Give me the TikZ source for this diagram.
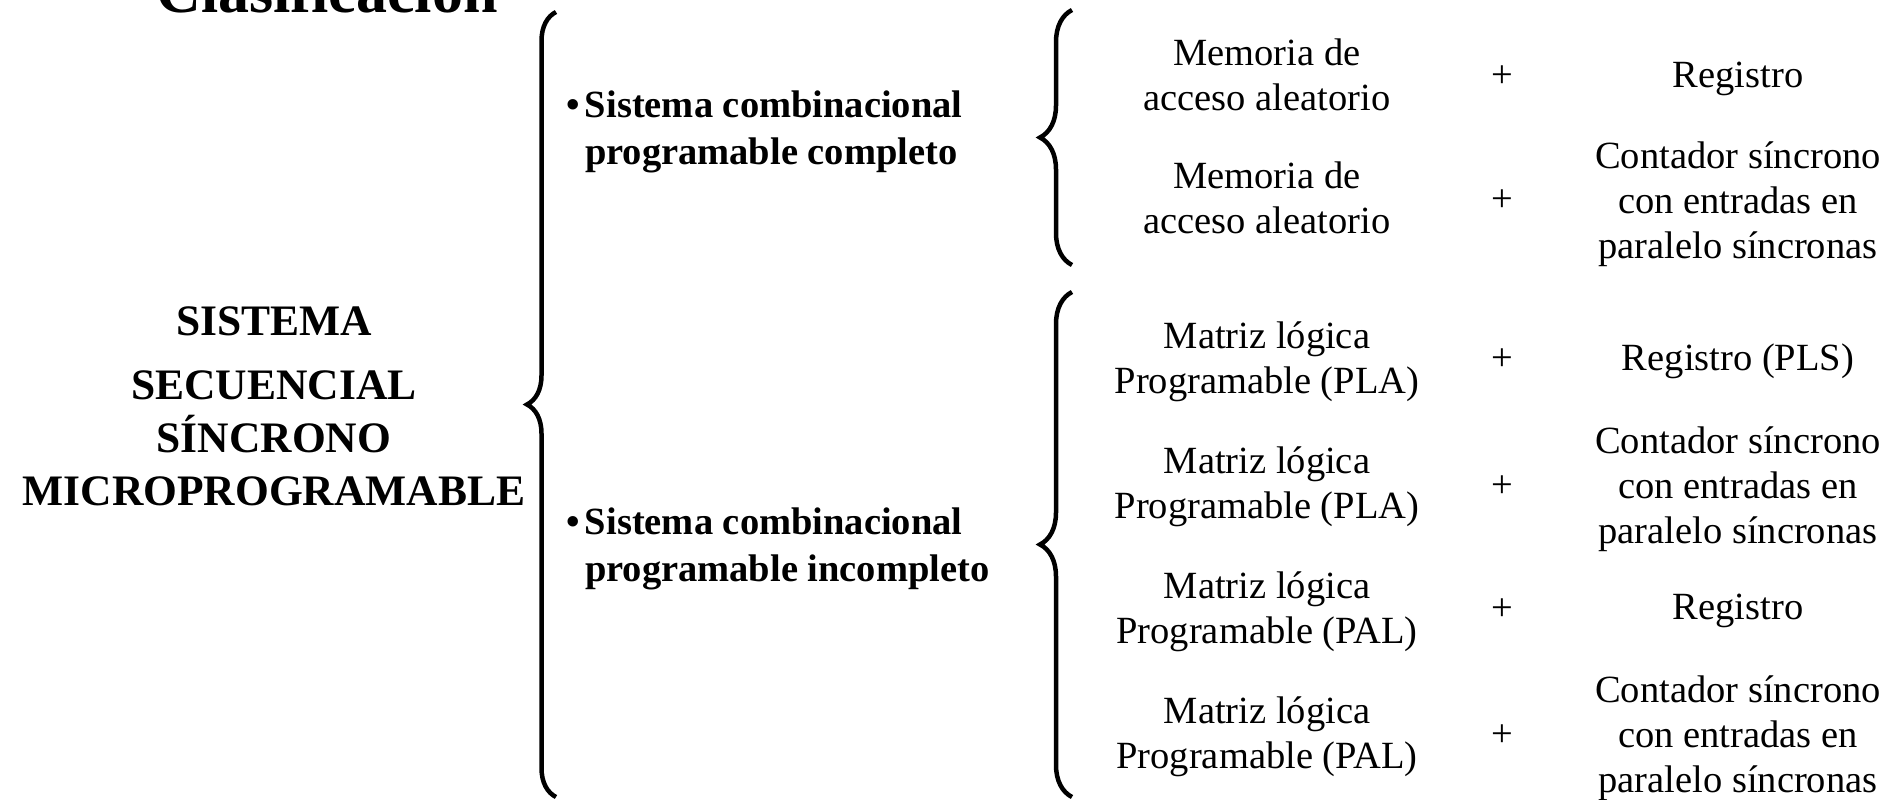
\documentclass[tikz,border=0pt]{standalone}
\usepackage{fontspec}
\setmainfont{Liberation Serif}
\usetikzlibrary{decorations.pathreplacing}
\begin{document}
\begin{tikzpicture}[x=1pt,y=-1pt,
  every node/.style={inner sep=0pt, outer sep=0pt},
  item/.style={font=\fontsize{38.5}{45}\selectfont, align=center, anchor=north},
  plus/.style={font=\fontsize{38.5}{45}\selectfont, anchor=base},
  group/.style={font=\fontsize{38.5}{47}\selectfont\bfseries, align=left, anchor=north west},
  head/.style={font=\fontsize{43.5}{53}\selectfont\bfseries, align=center, anchor=north},
  curly/.style={decorate, decoration={brace, amplitude=#1}, line width=4.5pt}
]
\useasboundingbox (0,0) rectangle (1899,800);
\clip (0,0) rectangle (1899,800);

% title and main heading
\node[font=\fontsize{62}{70}\selectfont\bfseries, anchor=base] (title) at (327,13) {Clasificación};
\node[head] (sys) at (274,306.5) {SISTEMA\\[11pt]SECUENCIAL\\SÍNCRONO\\MICROPROGRAMABLE};

% main brace
\coordinate (b0t) at (556,12);
\coordinate (b0b) at (556,797);
\draw[curly=29pt] (b0b) -- (b0t);

% the two kinds of combinational part
\node[group] (g1) at (566,91) {\makebox[19pt][l]{\textbullet}Sistema combinacional\\\hspace*{19pt}programable completo};
\node[group] (g2) at (566,508) {\makebox[19pt][l]{\textbullet}Sistema combinacional\\\hspace*{19pt}programable incompleto};

% sub-braces
\coordinate (b1t) at (1072,10);
\coordinate (b1b) at (1072,265);
\draw[curly=32pt] (b1b) -- (b1t);
\coordinate (b2t) at (1072,292);
\coordinate (b2b) at (1072,797);
\draw[curly=32pt] (b2b) -- (b2t);

% combinational part
\node[item] (m1) at (1267,38.7) {Memoria de\\acceso aleatorio};
\node[item] (m2) at (1267,161.7) {Memoria de\\acceso aleatorio};
\node[item] (m3) at (1267,321.7) {Matriz lógica\\Programable (PLA)};
\node[item] (m4) at (1267,446.7) {Matriz lógica\\Programable (PLA)};
\node[item] (m5) at (1267,571.7) {Matriz lógica\\Programable (PAL)};
\node[item] (m6) at (1267,696.7) {Matriz lógica\\Programable (PAL)};

% plus signs
\node[plus] (p1) at (1502,88) {+};
\node[plus] (p2) at (1502,211) {+};
\node[plus] (p3) at (1502,370) {+};
\node[plus] (p4) at (1502,497) {+};
\node[plus] (p5) at (1502,620) {+};
\node[plus] (p6) at (1502,746) {+};

% sequential part
\node[item] (r1) at (1738,61.7) {Registro};
\node[item] (r2) at (1738,141.7) {Contador síncrono\\con entradas en\\paralelo síncronas};
\node[item] (r3) at (1738,343.5) {Registro (PLS)};
\node[item] (r4) at (1738,426.7) {Contador síncrono\\con entradas en\\paralelo síncronas};
\node[item] (r5) at (1738,593.7) {Registro};
\node[item] (r6) at (1738,675.7) {Contador síncrono\\con entradas en\\paralelo síncronas};
\end{tikzpicture}
\end{document}
